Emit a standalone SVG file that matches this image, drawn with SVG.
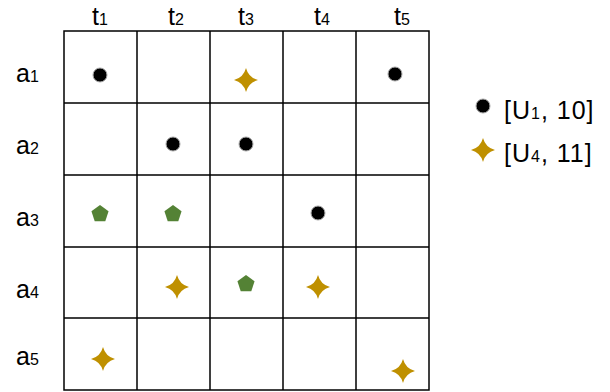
<svg xmlns="http://www.w3.org/2000/svg" xmlns:xlink="http://www.w3.org/1999/xlink" width="610" height="392" viewBox="0 0 610 392">
<style>
.lbl{font-family:"Liberation Sans",Arial,sans-serif;font-size:25px;fill:#000}
.sub{font-size:16px}
.leg{letter-spacing:1px}
.grid{fill:none;stroke:#000;stroke-width:1.5}
.dot{fill:#000;stroke:#aaa;stroke-width:1}
.star{fill:#BF9000}
.pent{fill:#548235}
</style>
<defs>
<circle id="dot" class="dot" cx="0" cy="0" r="7"/>
<path id="star" class="star" d="M0,-12 Q2.5,-2.5 12,0 Q2.5,2.5 0,12 Q-2.5,2.5 -12,0 Q-2.5,-2.5 0,-12Z"/>
<polygon id="pent" class="pent" points="0,-9 8.56,-2.78 5.29,7.28 -5.29,7.28 -8.56,-2.78"/>
</defs>
<rect width="610" height="392" fill="#fff"/>
<g id="grid">
<rect class="grid" x="64" y="31" width="365" height="359"/>
<path class="grid" d="M137,31V390M210,31V390M283,31V390M356,31V390M64,103H429M64,175H429M64,247H429M64,318H429"/>
</g>
<g id="col-labels">
<text class="lbl" x="100" y="25" text-anchor="middle">t<tspan class="sub">1</tspan></text>
<text class="lbl" x="176" y="25" text-anchor="middle">t<tspan class="sub">2</tspan></text>
<text class="lbl" x="246" y="25" text-anchor="middle">t<tspan class="sub">3</tspan></text>
<text class="lbl" x="322" y="25" text-anchor="middle">t<tspan class="sub">4</tspan></text>
<text class="lbl" x="402" y="25" text-anchor="middle">t<tspan class="sub">5</tspan></text>
</g>
<g id="row-labels">
<text class="lbl" x="16" y="82">a<tspan class="sub">1</tspan></text>
<text class="lbl" x="16" y="154">a<tspan class="sub">2</tspan></text>
<text class="lbl" x="16" y="226">a<tspan class="sub">3</tspan></text>
<text class="lbl" x="16" y="298">a<tspan class="sub">4</tspan></text>
<text class="lbl" x="16" y="365">a<tspan class="sub">5</tspan></text>
</g>
<g id="markers">
<use xlink:href="#dot" href="#dot" x="100" y="75"/>
<use xlink:href="#star" href="#star" x="246" y="80"/>
<use xlink:href="#dot" href="#dot" x="395" y="74"/>
<use xlink:href="#dot" href="#dot" x="173" y="144"/>
<use xlink:href="#dot" href="#dot" x="246" y="144"/>
<use xlink:href="#pent" href="#pent" x="100" y="214"/>
<use xlink:href="#pent" href="#pent" x="173" y="214"/>
<use xlink:href="#dot" href="#dot" x="318" y="213"/>
<use xlink:href="#star" href="#star" x="177" y="287"/>
<use xlink:href="#pent" href="#pent" x="246" y="284"/>
<use xlink:href="#star" href="#star" x="318" y="287"/>
<use xlink:href="#star" href="#star" x="103" y="359"/>
<use xlink:href="#star" href="#star" x="403" y="371"/>
</g>
<g id="legend">
<use xlink:href="#dot" href="#dot" x="483" y="106"/>
<text class="lbl leg" x="504" y="119">[U<tspan class="sub">1</tspan>, 10]</text>
<use xlink:href="#star" href="#star" x="483" y="150"/>
<text class="lbl leg" x="504" y="162">[U<tspan class="sub">4</tspan>, 11]</text>
</g>
</svg>
